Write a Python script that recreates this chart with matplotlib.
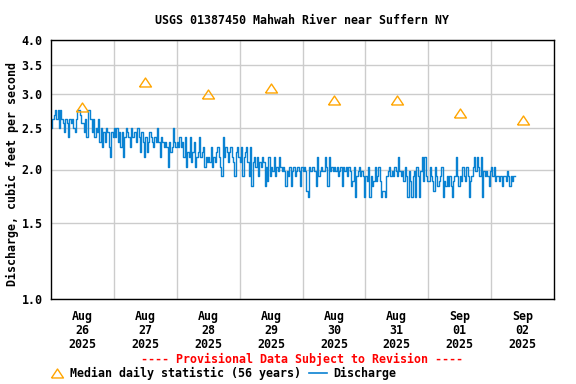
import numpy as np
import pandas as pd
import matplotlib
matplotlib.use("Agg")
import matplotlib.pyplot as plt
import matplotlib.dates as mdates
from matplotlib.lines import Line2D
from matplotlib.ticker import FixedLocator, FormatStrFormatter, NullLocator

plt.rcParams["font.family"] = ["DejaVu Sans Mono"]
plt.rcParams["font.weight"] = "bold"

# discharge levels (cfs), one code per level
LEVELS = {
    "0": 1.73, "1": 1.78, "2": 1.83, "3": 1.88, "4": 1.93, "5": 1.98,
    "6": 2.03, "7": 2.08, "8": 2.14, "9": 2.20, "a": 2.26, "b": 2.32,
    "c": 2.38, "d": 2.44, "e": 2.50, "f": 2.56, "g": 2.62, "h": 2.68,
    "i": 2.75,
}

# 30-minute readings, one string per day starting at midnight
aug26 = "eghigiei" "gfdgfcgf" "gedgiihf" "fdgciigd" "gcedgbea" "dbeda8dc"
aug27 = "ecebdad8" "cedcaecd" "dbec9db8" "c9bdcbac" "beb8cbab" "a6b9aeba"
aug28 = "bacab8c6" "98c79b68" "9c89a687" "87a6879a" "864c8a97" "9a8749a8"
aug29 = "7a489a74" "a2786847" "68726384" "65846586" "56525462" "56456526"
aug30 = "56510656" "65284565" "58628565" "65645626" "56465236" "04564540"
aug31 = "43604236" "34630110" "45645465" "48545364" "05304506" "40583843"
sep01 = "36431642" "34603242" "42034842" "43643640" "34685864" "80545425"
sep02 = "6463443424435424344"

days = ["2025-08-26", "2025-08-27", "2025-08-28", "2025-08-29",
        "2025-08-30", "2025-08-31", "2025-09-01", "2025-09-02"]
median_cfs = [2.8, 3.2, 3.0, 3.1, 2.9, 2.9, 2.7, 2.6]

codes = aug26 + aug27 + aug28 + aug29 + aug30 + aug31 + sep01 + sep02
discharge = [LEVELS[c] for c in codes]
times = pd.date_range("2025-08-26 00:00", periods=len(discharge), freq="30min")

day_starts = pd.to_datetime(days)
noons = day_starts + pd.Timedelta(hours=12)

BLUE = "#0a82d2"
ORANGE = "#ffa500"
tri = [(-6, -4.5), (6, -4.5), (0, 4.5), (-6, -4.5)]

fig = plt.figure(figsize=(5.76, 3.84), dpi=100)
ax = fig.add_axes([51 / 576, 1 - 299 / 384, 503 / 576, 259 / 384])

ax.plot(times, discharge, color=BLUE, lw=1.0, drawstyle="steps-post")
ax.plot(noons, median_cfs, linestyle="none", marker=tri, markersize=8.6,
        markerfacecolor="none", markeredgecolor=ORANGE, markeredgewidth=1.0)

ax.set_yscale("log")
ax.set_ylim(1.0, 4.0)
ax.yaxis.set_major_locator(FixedLocator([1.0, 1.5, 2.0, 2.5, 3.0, 3.5, 4.0]))
ax.yaxis.set_major_formatter(FormatStrFormatter("%.1f"))
ax.yaxis.set_minor_locator(NullLocator())

ax.set_xlim(day_starts[0], day_starts[-1] + pd.Timedelta(days=1))
ax.set_xticks(noons)
ax.set_xticklabels([d.strftime("%b\n%d\n%Y") for d in day_starts], linespacing=1.1)
ax.set_xticks(day_starts[1:], minor=True)

ax.grid(True, axis="y", which="major", color="#cccccc", lw=1)
ax.grid(True, axis="x", which="minor", color="#cccccc", lw=1)
ax.tick_params(axis="both", which="both", length=0, labelsize=8.4)
ax.tick_params(axis="y", pad=6)
ax.tick_params(axis="x", pad=8)
for s in ax.spines.values():
    s.set_color("black")
    s.set_linewidth(1.0)

fig.text(302 / 576, 1 - 20 / 384, "USGS 01387450 Mahwah River near Suffern NY",
         ha="center", va="center", fontsize=8.4)
fig.text(12 / 576, 1 - 174 / 384, "Discharge, cubic feet per second",
         rotation=90, ha="center", va="center", fontsize=8.4)
fig.text(302 / 576, 1 - 359 / 384, "---- Provisional Data Subject to Revision ----",
         ha="center", va="center", fontsize=8.4, color="red")

leg_y = 1 - 373 / 384
fig.add_artist(Line2D([57 / 576], [leg_y], marker=tri, markersize=8.6,
                      markerfacecolor="none", markeredgecolor=ORANGE,
                      markeredgewidth=1.0, linestyle="none"))
fig.text(70 / 576, leg_y, "Median daily statistic (56 years)",
         ha="left", va="center", fontsize=8.4)
fig.add_artist(Line2D([309 / 576, 327 / 576], [leg_y, leg_y], color=BLUE, lw=1.2))
fig.text(333 / 576, leg_y, "Discharge", ha="left", va="center", fontsize=8.4)

fig.savefig("out.png", dpi=100)
